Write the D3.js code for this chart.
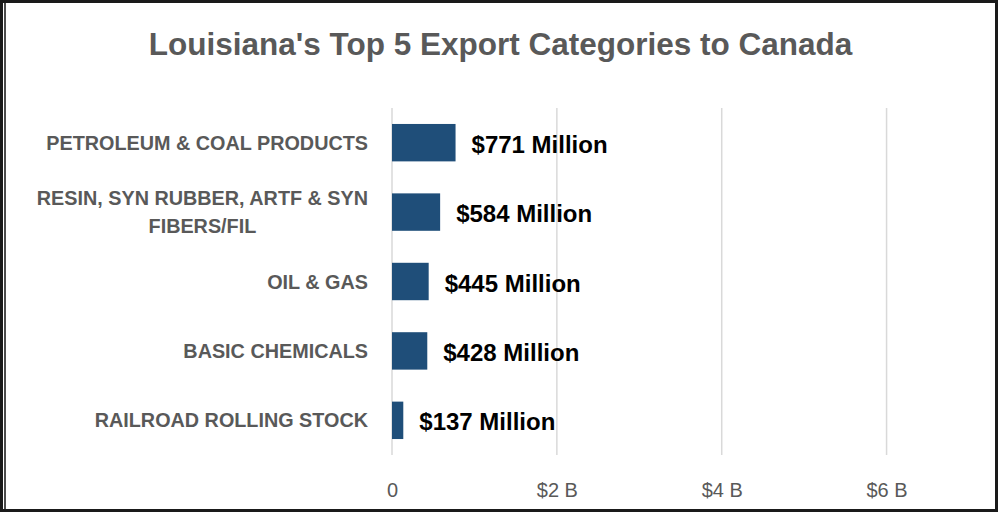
<!DOCTYPE html>
<html>
<head>
<meta charset="utf-8">
<script src="https://cdn.jsdelivr.net/npm/d3@7"></script>
<style>
  html, body { margin: 0; padding: 0; background: #fff; }
  svg { display: block; }
</style>
</head>
<body>
<svg id="chart" width="998" height="512"></svg>
<script>
// ---- data ----
const titleText = "Louisiana's Top 5 Export Categories to Canada";
const categories = [
  ["PETROLEUM & COAL PRODUCTS"],
  ["RESIN, SYN RUBBER, ARTF & SYN", "FIBERS/FIL"],
  ["OIL & GAS"],
  ["BASIC CHEMICALS"],
  ["RAILROAD ROLLING STOCK"]
];
const valuesMillion = [771, 584, 445, 428, 137];
const tickValuesB = [0, 2, 4, 6];
const tickLabels = ["0", "$2 B", "$4 B", "$6 B"];

// ---- layout ----
const W = 998, H = 512;
const svg = d3.select("#chart");
const FONT = "'Liberation Sans', Arial, sans-serif";

svg.append("rect")
  .attr("x", 1.5).attr("y", 1.5).attr("width", W - 3).attr("height", H - 3)
  .attr("fill", "#fff").attr("stroke", "#1a1a1a").attr("stroke-width", 3);
svg.append("line")
  .attr("x1", 5).attr("x2", 5).attr("y1", 3).attr("y2", H - 3)
  .attr("stroke", "#111").attr("stroke-width", 1.5);

const plot = { left: 392, right: 969, top: 108, bottom: 455 };

const x = d3.scaleLinear().domain([0, 7]).range([plot.left, plot.right]);
const keys = categories.map((c, i) => i);
const y = d3.scaleBand().domain(keys).range([plot.top, plot.bottom])
  .paddingInner(0.461).paddingOuter(0.23);

// title
svg.append("text")
  .attr("x", 500.5).attr("y", 55)
  .attr("text-anchor", "middle")
  .attr("font-family", FONT).attr("font-weight", "bold")
  .attr("font-size", 31.5).attr("fill", "#595959")
  .text(titleText);

// gridlines
svg.append("g").selectAll("line")
  .data(tickValuesB)
  .join("line")
  .attr("x1", d => x(d)).attr("x2", d => x(d))
  .attr("y1", plot.top).attr("y2", plot.bottom)
  .attr("stroke", "#d9d9d9").attr("stroke-width", 1.5);

// x axis labels
const xAxis = d3.axisBottom(x).tickValues(tickValuesB)
  .tickFormat((d, i) => tickLabels[i]).tickSize(0).tickPadding(0);
const gx = svg.append("g").attr("transform", `translate(0,${plot.bottom})`).call(xAxis);
gx.select(".domain").remove();
gx.selectAll("text")
  .attr("y", 42).attr("dy", 0)
  .attr("font-family", FONT).attr("font-size", 20).attr("fill", "#595959");

// bars
svg.append("g").selectAll("rect")
  .data(valuesMillion)
  .join("rect")
  .attr("x", x(0))
  .attr("y", (d, i) => y(i))
  .attr("width", d => x(d / 1000) - x(0))
  .attr("height", y.bandwidth())
  .attr("fill", "#1F4E79");

// value labels
svg.append("g").selectAll("text")
  .data(valuesMillion)
  .join("text")
  .attr("x", d => x(d / 1000) + 16)
  .attr("y", (d, i) => y(i) + y.bandwidth() / 2 + 10)
  .attr("font-family", FONT).attr("font-weight", "bold")
  .attr("font-size", 24).attr("fill", "#000")
  .text(d => "$" + d + " Million");

// category labels
const labelRight = 368;
const catG = svg.append("g");
categories.forEach((lines, i) => {
  const cy = y(i) + y.bandwidth() / 2;
  const lh = 28;
  const g = catG.append("g");
  const texts = lines.map((ln, j) => g.append("text")
    .attr("y", cy + 7 + (j - (lines.length - 1) / 2) * lh)
    .attr("font-family", FONT).attr("font-weight", "bold")
    .attr("font-size", 19.8).attr("fill", "#595959")
    .text(ln));
  const widths = texts.map(t => t.node().getComputedTextLength());
  const maxW = d3.max(widths);
  texts.forEach(t => t.attr("text-anchor", "middle").attr("x", labelRight - maxW / 2));
});
</script>
</body>
</html>
